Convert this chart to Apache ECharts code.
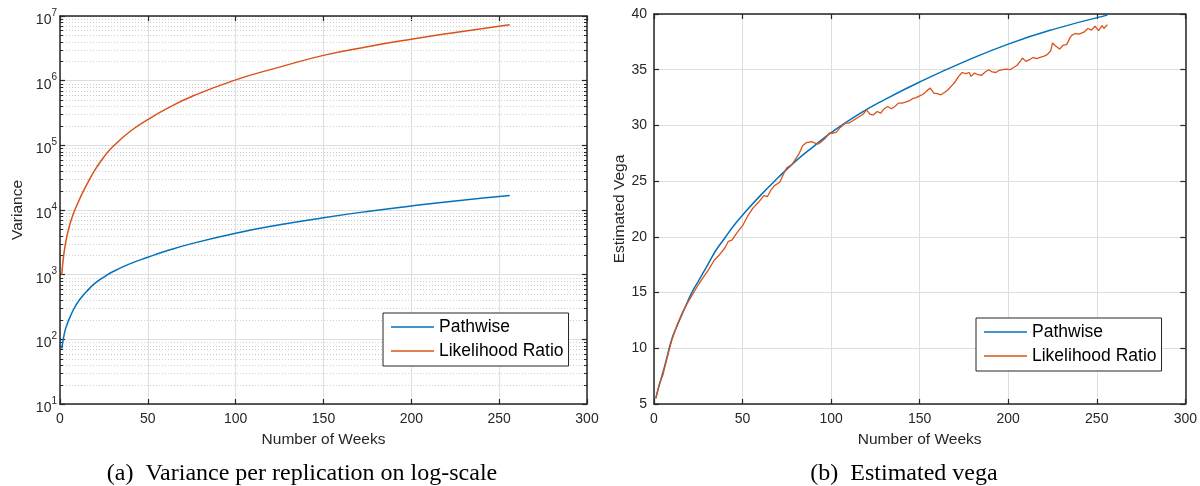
<!DOCTYPE html>
<html>
<head>
<meta charset="utf-8">
<script src="https://cdn.jsdelivr.net/npm/echarts@6/dist/echarts.min.js"></script>
<style>
html,body{margin:0;padding:0;background:#fff;}
#chart{width:1200px;height:486px;}
</style>
</head>
<body>
<div id="chart"></div>
<script>
// ---- Data ----
// (a) Variance per replication (log scale)
const weeksVar = [1,2,3,4,5,6,8,10,12,15,20,25,30,40,50,60,75,100,125,150,175,200,225,256];
const varPathwise = [72,105,140,170,200,230,300,370,440,545,740,920,1110,1480,1860,2300,3020,4370,5900,7600,9500,11560,13800,16700];
const varLikelihood = [1000,1900,2900,4000,5200,6500,9300,12500,16500,24000,42000,66000,95000,165000,250000,360000,570000,1030000,1620000,2460000,3350000,4370000,5550000,7300000];

// (b) Estimated vega
const weeksVegaPW = [1,3,5,7,10,13,16,19,22,25,30,35,40,45,50,60,70,80,90,100,115,130,150,175,200,225,256];
const vegaPathwise = [5.5,6.7,7.8,9.0,10.8,12.0,13.1,14.2,15.2,16.0,17.4,18.8,19.9,21.0,21.95,23.7,25.3,26.8,28.1,29.35,30.95,32.3,33.9,35.7,37.3,38.6,39.9];
const weeksVegaLR = [1,3,5,8,10,13,16,19,22,25,28,31,34,37,40,42,44,47,50,53,56,59,62,64,66,68,71,73,75,78,80,82,84,86,89,91,93,95,97,99,101,103,105,108,110,112,114,116,118,120,122,124,126,128,130,132,134,136,138,140,142,144,146,148,150,152,154,156,158,160,162,164,166,168,170,172,174,176,178,179,181,183,185,187,189,191,193,195,197,199,201,203,205,207,208,210,212,214,216,218,220,222,224,225,227,229,231,233,235,236,238,240,241,243,245,247,249,251,253,254,256];
const vegaLikelihood = [5.5,6.8,7.6,9.5,10.7,12.1,13.2,14.1,14.9,15.7,16.4,17.1,17.9,18.4,19.0,19.6,19.7,20.4,21.0,21.9,22.6,23.1,23.7,23.6,24.2,24.6,24.9,25.6,26.2,26.5,27.0,27.5,28.2,28.45,28.55,28.4,28.35,28.6,28.9,29.3,29.3,29.4,29.8,30.2,30.2,30.4,30.6,30.8,31.0,31.4,31.0,30.95,31.25,31.1,31.5,31.7,31.5,31.7,32.0,32.0,32.1,32.2,32.4,32.5,32.65,32.8,33.1,33.35,32.9,32.85,32.75,32.95,33.2,33.55,33.9,34.4,34.75,34.65,34.75,34.4,34.7,34.55,34.5,34.8,35.0,34.8,34.75,34.95,35.0,35.05,35.0,35.2,35.4,35.8,36.05,35.75,35.9,36.1,36.0,36.1,36.2,36.35,36.7,37.4,37.1,36.85,37.2,37.25,37.9,38.1,38.25,38.2,38.1,38.4,38.7,38.55,38.9,38.5,38.95,38.7,39.05];

// axis structure
const xTicksMax = 300, xInterval = 50;
const logMin = 10, logMax = 1e7;
const minorMultipliers = [2,3,4,5,6,7,8,9];
const decades = [10,100,1000,10000,100000,1000000];
const minorLogValues = [];
decades.forEach(d => minorMultipliers.forEach(m => minorLogValues.push(d * m)));

const seriesNames = ['Pathwise', 'Likelihood Ratio'];
const colors = ['#0072BD', '#D95319'];

const pair = (xs, ys) => xs.map((x, i) => [x, ys[i]]);

const FONT = '"Liberation Sans", Arial, Helvetica, sans-serif';
const AX = '#262626';
const GRID = '#dedede';

function xAxisPair(gridIndex) {
  return [
    {
      gridIndex, type: 'value', min: 0, max: xTicksMax, interval: xInterval, position: 'bottom',
      name: 'Number of Weeks', nameLocation: 'middle', nameGap: 28,
      nameTextStyle: {fontFamily: FONT, fontSize: 15.5, color: AX},
      axisLine: {show: true, onZero: false, lineStyle: {color: AX, width: 1.5}},
      axisTick: {show: true, inside: true, length: 5, lineStyle: {color: AX, width: 1.2}},
      axisLabel: {fontFamily: FONT, fontSize: 14, color: AX, margin: 8},
      splitLine: {show: true, lineStyle: {color: GRID, width: 1}}
    },
    {
      gridIndex, type: 'value', min: 0, max: xTicksMax, interval: xInterval, position: 'top',
      axisLine: {show: true, onZero: false, lineStyle: {color: AX, width: 1.5}},
      axisTick: {show: true, inside: true, length: 5, lineStyle: {color: AX, width: 1.2}},
      axisLabel: {show: false}, splitLine: {show: false}
    }
  ];
}

const supLabel = v => {
  const e = Math.round(Math.log10(v));
  return '{b|10}{s|' + e + '}';
};

const legendBase = {
  data: seriesNames, orient: 'vertical', icon: 'rect',
  backgroundColor: '#fff', borderColor: AX, borderWidth: 1, borderRadius: 0,
  padding: [5, 5, 6, 8], itemWidth: 43, itemHeight: 1.5, itemGap: 6,
  textStyle: {fontFamily: FONT, fontSize: 17.5, color: '#000'},
  selectedMode: false
};

const option = {
  animation: false,
  backgroundColor: '#fff',
  grid: [
    {left: 60, top: 16, width: 527, height: 388},
    {left: 654, top: 14, width: 535, height: 390}
  ],
  xAxis: [...xAxisPair(0), ...xAxisPair(1)],
  yAxis: [
    {
      gridIndex: 0, type: 'log', logBase: 10, min: logMin, max: logMax, splitNumber: 6, position: 'left',
      name: 'Variance', nameLocation: 'middle', nameGap: 34,
      nameTextStyle: {fontFamily: FONT, fontSize: 15.5, color: AX},
      axisLine: {show: true, onZero: false, lineStyle: {color: AX, width: 1.5}},
      axisTick: {show: true, inside: true, length: 5, lineStyle: {color: AX, width: 1.2}},
      axisLabel: {
        fontFamily: FONT, color: AX, margin: 3, formatter: supLabel,
        rich: {
          b: {fontFamily: FONT, fontSize: 14, color: AX, padding: [8, 0, 0, 0]},
          s: {fontFamily: FONT, fontSize: 10, color: AX, padding: [0, 0, 6, 0]}
        }
      },
      splitLine: {show: true, lineStyle: {color: GRID, width: 1}}
    },
    {
      gridIndex: 0, type: 'log', logBase: 10, min: logMin, max: logMax, splitNumber: 6, position: 'right',
      axisLine: {show: true, onZero: false, lineStyle: {color: AX, width: 1.5}},
      axisTick: {show: true, inside: true, length: 5, lineStyle: {color: AX, width: 1.2}},
      axisLabel: {show: false}, splitLine: {show: false}
    },
    {
      gridIndex: 1, type: 'value', min: 5, max: 40, interval: 5, position: 'left',
      name: 'Estimated Vega', nameLocation: 'middle', nameGap: 26,
      nameTextStyle: {fontFamily: FONT, fontSize: 15.5, color: AX},
      axisLine: {show: true, onZero: false, lineStyle: {color: AX, width: 1.5}},
      axisTick: {show: true, inside: true, length: 5, lineStyle: {color: AX, width: 1.2}},
      axisLabel: {fontFamily: FONT, fontSize: 14, color: AX, margin: 7},
      splitLine: {show: true, lineStyle: {color: GRID, width: 1}}
    },
    {
      gridIndex: 1, type: 'value', min: 5, max: 40, interval: 5, position: 'right',
      axisLine: {show: true, onZero: false, lineStyle: {color: AX, width: 1.5}},
      axisTick: {show: true, inside: true, length: 5, lineStyle: {color: AX, width: 1.2}},
      axisLabel: {show: false}, splitLine: {show: false}
    }
  ],
  legend: [
    Object.assign({}, legendBase, {left: 383, top: 313}),
    Object.assign({}, legendBase, {left: 976, top: 318})
  ],
  graphic: [
    {type: 'text', x: 302, y: 474, silent: true,
     style: {text: '(a)  Variance per replication on log-scale', fontFamily: '"Liberation Serif", "Times New Roman", serif', fontSize: 24, fill: '#000', align: 'center', verticalAlign: 'middle'}},
    {type: 'text', x: 904, y: 474, silent: true,
     style: {text: '(b)  Estimated vega', fontFamily: '"Liberation Serif", "Times New Roman", serif', fontSize: 24, fill: '#000', align: 'center', verticalAlign: 'middle'}}
  ],
  series: [
    {
      type: 'custom', xAxisIndex: 0, yAxisIndex: 0, z: 1, silent: true,
      data: minorLogValues.map(v => [0, v]),
      renderItem: function (params, api) {
        const cs = params.coordSys;
        const y = Math.round(api.coord([0, api.value(1)])[1]) + 0.5;
        return {
          type: 'group',
          children: [
            {type: 'line', shape: {x1: cs.x, y1: y, x2: cs.x + cs.width, y2: y},
             style: {stroke: '#cfcfcf', lineWidth: 1, lineDash: [1, 2]}},
            {type: 'line', shape: {x1: cs.x, y1: y, x2: cs.x + 3, y2: y},
             style: {stroke: AX, lineWidth: 1}},
            {type: 'line', shape: {x1: cs.x + cs.width - 3, y1: y, x2: cs.x + cs.width, y2: y},
             style: {stroke: AX, lineWidth: 1}}
          ]
        };
      }
    },
    {name: seriesNames[0], type: 'line', xAxisIndex: 0, yAxisIndex: 0, z: 3, symbol: 'none', smooth: true,
     data: pair(weeksVar, varPathwise), lineStyle: {color: colors[0], width: 1.5}, itemStyle: {color: colors[0]}},
    {name: seriesNames[1], type: 'line', xAxisIndex: 0, yAxisIndex: 0, z: 3, symbol: 'none', smooth: true,
     data: pair(weeksVar, varLikelihood), lineStyle: {color: colors[1], width: 1.5}, itemStyle: {color: colors[1]}},
    {name: seriesNames[0], type: 'line', xAxisIndex: 2, yAxisIndex: 2, z: 3, symbol: 'none', smooth: true,
     data: pair(weeksVegaPW, vegaPathwise), lineStyle: {color: colors[0], width: 1.5}, itemStyle: {color: colors[0]}},
    {name: seriesNames[1], type: 'line', xAxisIndex: 2, yAxisIndex: 2, z: 3, symbol: 'none',
     data: pair(weeksVegaLR, vegaLikelihood), lineStyle: {color: colors[1], width: 1.3}, itemStyle: {color: colors[1]}}
  ]
};

const chart = echarts.init(document.getElementById('chart'), null, {renderer: 'canvas'});
chart.setOption(option);
</script>
</body>
</html>
